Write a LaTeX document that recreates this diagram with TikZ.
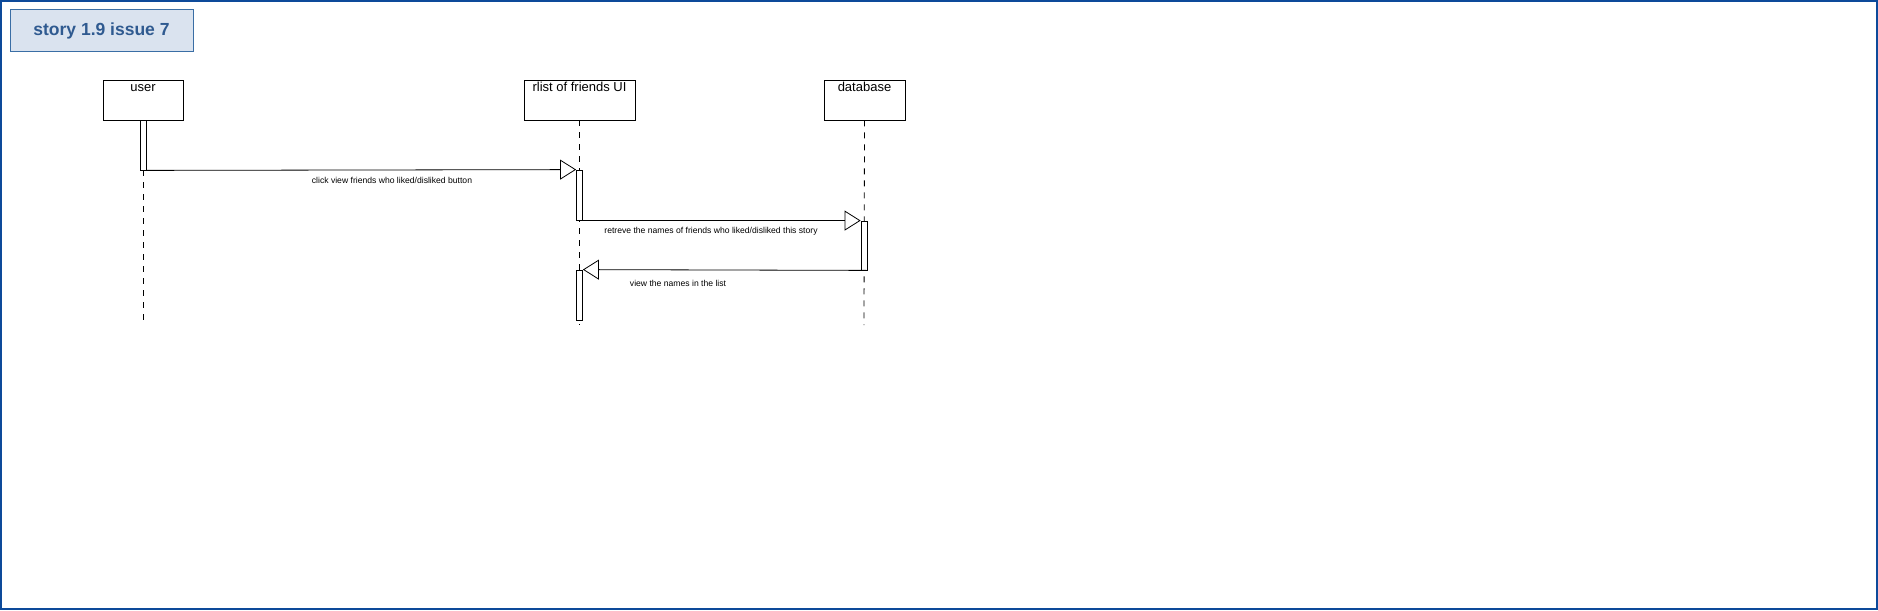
\documentclass[tikz,border=0pt]{standalone}
\usepackage{fontspec}
\setmainfont{Liberation Sans}
\usetikzlibrary{arrows.meta}
\definecolor{framecol}{HTML}{0D4A9A}
\definecolor{titlefill}{HTML}{DAE3EF}
\definecolor{titledraw}{HTML}{3A6EA5}
\definecolor{titletext}{HTML}{2F5A90}
\tikzset{
  head/.style={draw=black, line width=0.8pt, fill=white, minimum width=#1, minimum height=40pt, inner sep=0pt},
  headlabel/.style={font=\fontsize{13}{13}\selectfont, anchor=base, inner sep=0pt},
  life/.style={draw=black, line width=0.8pt, dash pattern=on 6pt off 6pt},
  act/.style={draw=black, line width=0.8pt, fill=white},
  msg/.style={draw=black, line width=0.8pt, -{Triangle[open, length=16pt, width=20pt]}},
  msglabel/.style={font=\fontsize{8.6}{9}\selectfont, inner sep=0pt},
}
\begin{document}
\begin{tikzpicture}[x=1pt, y=-1pt]
\useasboundingbox (0,0) rectangle (1878,610);
\draw[framecol, line width=1.6pt] (0.8,0.8) rectangle (1877.2,609.2);
% title
\node[draw=titledraw, fill=titlefill, line width=1pt, minimum width=183pt, minimum height=42pt, inner sep=0pt,
      font=\bfseries\fontsize{17.5}{18}\selectfont, text=titletext] (title) at (101.5,31) {story 1.9 issue 7};
% heads
\node[head=80pt] (user) at (143,100) {};
\node[headlabel] (userl) at (143,91.5) {user};
\node[head=111pt] (ui) at (579.5,100) {};
\node[headlabel] (uil) at (579.5,91.5) {rlist of friends UI};
\node[head=81pt] (db) at (864.5,100) {};
\node[headlabel] (dbl) at (864.5,91.5) {database};
% lifelines
\coordinate (userend) at (143,325);
\coordinate (uiend) at (579.5,325);
\coordinate (dbend) at (864,325);
\draw[life] (143,170) -- (userend);
\draw[life] (user.south -| ui) -- (uiend);
\draw[life] (db.south) -- (dbend);
% activations
\node[act, minimum width=6pt, minimum height=50pt, inner sep=0pt] (ua) at (143,145) {};
\node[act, minimum width=6pt, minimum height=50pt, inner sep=0pt] (ia) at (579.5,195) {};
\node[act, minimum width=6pt, minimum height=49pt, inner sep=0pt] (da) at (864,245.5) {};
\node[act, minimum width=6pt, minimum height=50pt, inner sep=0pt] (ib) at (579.5,295) {};
% messages
\draw[msg] (ua.south east) -- (ia.north west);
\node[msglabel] (l1) at (392,180) {click view friends who liked/disliked button};
\draw[msg] (ia.south west) -- (da.north west);
\node[msglabel] (l2) at (711,231) {retreve the names of friends who liked/disliked this story};
\draw[msg] (da.south east) -- (ib.north east);
\node[msglabel] (l3) at (678,283) {view the names in the list};
\end{tikzpicture}
\end{document}
